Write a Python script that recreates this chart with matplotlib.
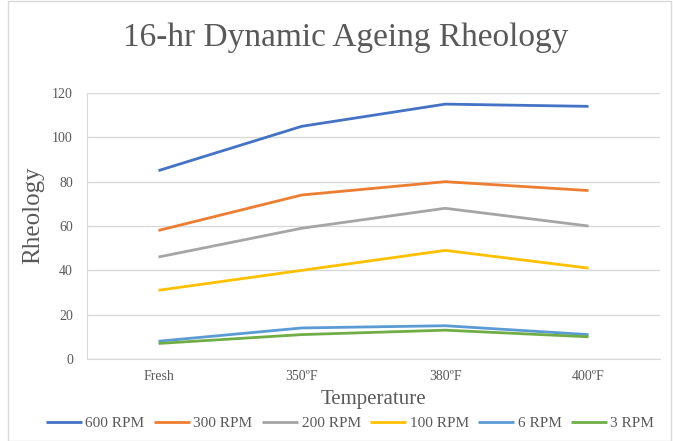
import matplotlib
matplotlib.use("Agg")
import matplotlib.pyplot as plt
from matplotlib.patches import Rectangle

categories = ["Fresh", "350ºF", "380ºF", "400ºF"]
series_names = ["600 RPM", "300 RPM", "200 RPM", "100 RPM", "6 RPM", "3 RPM"]
rpm600 = [85, 105, 115, 114]
rpm300 = [58, 74, 80, 76]
rpm200 = [46, 59, 68, 60]
rpm100 = [31, 40, 49, 41]
rpm6 = [8, 14, 15, 11]
rpm3 = [7, 11, 13, 10]
y_ticks = [0, 20, 40, 60, 80, 100, 120]

colors = ["#4472C4", "#ED7D31", "#A5A5A5", "#FFC000", "#5B9BD5", "#70AD47"]
plt.rcParams['font.family'] = ['Liberation Serif', 'DejaVu Serif']

fig = plt.figure(figsize=(6.73, 4.41), dpi=100)
ax = fig.add_axes([0.129, 0.186, 0.852, 0.603])

x = list(range(len(categories)))
for name, vals, c in zip(series_names, [rpm600, rpm300, rpm200, rpm100, rpm6, rpm3], colors):
    ax.plot(x, vals, color=c, lw=2.0, label=name, solid_capstyle='butt')

ax.set_xlim(-0.5, len(categories) - 0.5)
ax.set_ylim(0, 120)
ax.set_yticks(y_ticks)
ax.set_xticks(x)
ax.set_xticklabels(categories)
ax.grid(axis='y', color='#d9d9d9', lw=1)
ax.set_axisbelow(True)
for s in ['top', 'right']:
    ax.spines[s].set_visible(False)
ax.spines['left'].set_color('#d9d9d9')
ax.spines['bottom'].set_color('#d9d9d9')
ax.tick_params(length=0, colors='#595959', labelsize=10, pad=10)
ax.tick_params(axis='x', pad=8)

fig.text(0.513, 0.914, "16-hr Dynamic Ageing Rheology", ha='center', va='center',
         fontsize=24, color='#595959')
fig.text(0.05, 0.513, "Rheology", ha='center', va='center', rotation=90,
         fontsize=18, color='#595959')
fig.text(0.555, 0.093, "Temperature", ha='center', va='center', fontsize=15, color='#595959')

leg = fig.legend(loc='center', bbox_to_anchor=(0.52, 0.04), ncol=6, frameon=False,
                 fontsize=11, handlelength=2.4, handletextpad=0.2, columnspacing=0.6)
for t in leg.get_texts():
    t.set_color('#595959')

fig.patches.append(Rectangle((0.012, 0.0), 0.985, 0.998, transform=fig.transFigure,
                             fill=False, edgecolor='#d9d9d9', lw=1))

fig.savefig("out.png", dpi=100, facecolor='white')
